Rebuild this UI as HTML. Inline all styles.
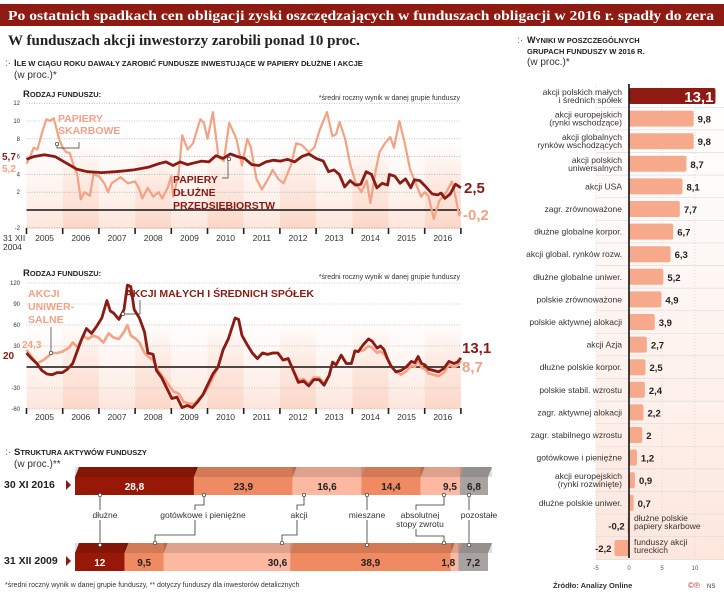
<!DOCTYPE html>
<html><head><meta charset="utf-8"><style>
body{margin:0;background:#fff;}
svg{display:block;font-family:"Liberation Sans",sans-serif;}
.s{font-family:"Liberation Serif",serif;font-weight:bold;}
</style></head><body>
<svg id="c" width="724" height="606" viewBox="0 0 724 606" xmlns="http://www.w3.org/2000/svg">
<defs>
<linearGradient id="bg" x1="0" y1="0" x2="0" y2="1"><stop offset="0" stop-color="#fde3d8" stop-opacity="0"/><stop offset="0.5" stop-color="#fde3d8" stop-opacity="0.8"/><stop offset="1" stop-color="#fcd7c8"/></linearGradient>
<linearGradient id="bg2" x1="0" y1="0" x2="0" y2="1"><stop offset="0" stop-color="#fdeee8" stop-opacity="0"/><stop offset="1" stop-color="#fde6dc"/></linearGradient>
</defs>
<rect x="0" y="4" width="724" height="22" fill="#8e1a12"/>
<text x="8" y="20" class="s" font-size="13.5" fill="#fff" textLength="706" lengthAdjust="spacingAndGlyphs">Po ostatnich spadkach cen obligacji zyski oszczędzających w funduszach obligacji w 2016 r. spadły do zera</text>
<text x="8" y="45" class="s" font-size="15" fill="#222">W funduszach akcji inwestorzy zarobili ponad 10 proc.</text>
<text x="5" y="66" font-size="10" fill="#c0392b">:·</text>
<text x="14" y="66" font-size="9.5" font-weight="bold" fill="#222">I<tspan font-size="7.5">LE W CIĄGU ROKU DAWAŁY ZAROBIĆ FUNDUSZE INWESTUJĄCE  W PAPIERY DŁUŻNE I AKCJE</tspan></text>
<text x="14" y="78" font-size="10" fill="#333">(w proc.)*</text>
<text x="23" y="97" font-size="9.5" font-weight="bold" fill="#222">R<tspan font-size="7.5">ODZAJ FUNDUSZU:</tspan></text>
<text x="460" y="100" font-size="7" fill="#333" text-anchor="end">*średni roczny wynik w danej grupie funduszy</text>
<g id="ch1"></g>
<text x="23" y="276" font-size="9.5" font-weight="bold" fill="#222">R<tspan font-size="7.5">ODZAJ FUNDUSZU:</tspan></text>
<text x="460" y="279" font-size="7" fill="#333" text-anchor="end">*średni roczny wynik w danej grupie funduszy</text>
<g id="ch2"></g>
<text x="5" y="455" font-size="10" fill="#c0392b">:·</text>
<text x="14" y="455" font-size="9.5" font-weight="bold" fill="#222">S<tspan font-size="7.5">TRUKTURA AKTYWÓW FUNDUSZY</tspan></text>
<text x="14" y="467" font-size="10" fill="#333">(w proc.)**</text>
<g id="st"></g>
<text x="5" y="587" font-size="7" fill="#333">*średni roczny wynik w danej grupie funduszy, ** dotyczy funduszy dla inwestorów detalicznych</text>
<text x="517" y="43" font-size="10" fill="#c0392b">:·</text>
<text x="527" y="43" font-size="9" font-weight="bold" fill="#222">W<tspan font-size="7.5">YNIKI W POSZCZEGÓLNYCH</tspan></text>
<text x="527" y="54" font-size="7.5" font-weight="bold" fill="#222">GRUPACH FUNDUSZY W 2016 R.</text>
<text x="527" y="65" font-size="10" fill="#333">(w proc.)*</text>
<g id="rb"></g>
<text x="553" y="588" font-size="7.5" font-weight="bold" fill="#333">Źródło: Analizy Online</text>
<text x="688" y="588" font-size="8" fill="#c0392b">©℗</text><text x="707" y="588" font-size="6" fill="#333">NS</text>
</svg>
<script>
var NS="http://www.w3.org/2000/svg";
function el(p,t,a,txt){var e=document.createElementNS(NS,t);for(var k in a)e.setAttribute(k,a[k]);if(txt!==undefined)e.textContent=txt;p.appendChild(e);return e;}
var X0=26.5,YW=36.2;
function xs(t){return X0+t*YW;}
function axes(g,top,bot,zeroY,ticks,labY,lbl){
 for(var i=0;i<12;i++){el(g,"rect",{x:xs(i),y:top,width:YW,height:bot-top,fill:i%2?"url(#bg)":"url(#bg2)"});}
 ticks.forEach(function(t){el(g,"line",{x1:X0,x2:460,y1:t[1],y2:t[1],stroke:"#999","stroke-width":0.6,"stroke-dasharray":"1,1.5"});el(g,"text",{x:20,y:t[1]+2,"font-size":6,fill:"#333","text-anchor":"end"},t[0]);});
 for(var i=0;i<=12;i++)el(g,"line",{x1:xs(i),x2:xs(i),y1:bot-1,y2:bot+5,stroke:"#222","stroke-width":1.6});
 for(var i=0;i<12;i++)el(g,"text",{x:xs(i)+YW/2,y:labY,"font-size":8.5,fill:"#333","text-anchor":"middle"},2005+i);
 if(lbl){el(g,"text",{x:3,y:labY,"font-size":8.5,fill:"#333"},"31 XII");el(g,"text",{x:3,y:labY+9,"font-size":8.5,fill:"#333"},"2004");}
}
function line(g,d,fy,col,w){var p=d.map(function(v){return xs(v[0]).toFixed(1)+","+fy(v[1]).toFixed(1)}).join(" ");el(g,"polyline",{points:p,fill:"none",stroke:col,"stroke-width":w,"stroke-linejoin":"round"});}
var LC="#f4a184",DC="#8b1a12";
var g1=document.getElementById("ch1");
function y1(v){return 210-v*8.9;}
axes(g1,140,229,210,[[12,y1(12)],[10,y1(10)],[8,y1(8)],[6,y1(6)],[4,y1(4)],[2,y1(2)],[-2,y1(-2)]],241,true);
var sk=[[0,5.2],[0.1,6],[0.2,7],[0.3,6.8],[0.45,9],[0.55,10.2],[0.65,10],[0.75,10.3],[0.9,8],[1,7],[1.1,6.5],[1.2,6.4],[1.3,5],[1.4,4],[1.5,1.2],[1.6,2],[1.75,1.6],[1.85,4],[2,3.8],[2.15,3],[2.25,2],[2.35,3],[2.6,3.7],[2.8,3],[3,3.2],[3.1,2.5],[3.2,1.3],[3.35,2.5],[3.5,1.5],[3.65,2],[3.75,1.3],[3.9,2.5],[4,3.8],[4.05,1.5],[4.2,4],[4.3,8.4],[4.45,6.8],[4.6,7.5],[4.8,10.2],[4.9,9.8],[5,8],[5.15,11],[5.3,6],[5.45,5.5],[5.6,9.8],[5.8,8],[5.95,5],[6.1,8],[6.2,7],[6.35,3.5],[6.5,2.3],[6.65,3.3],[6.8,4.5],[6.95,3.5],[7.1,3],[7.3,5],[7.45,7.5],[7.6,7.3],[7.8,6.5],[7.95,7],[8.1,9],[8.3,11],[8.45,8.3],[8.55,8.5],[8.65,9.9],[8.8,8],[8.95,5],[9.1,3],[9.25,2],[9.4,3.3],[9.5,0.8],[9.65,4.5],[9.75,6.5],[9.9,7.5],[10.05,8.2],[10.15,7],[10.3,10],[10.45,7.5],[10.6,4.5],[10.75,3],[10.9,1.5],[11,2],[11.1,1.6],[11.25,-1],[11.4,1],[11.6,2],[11.75,3.2],[11.85,1.5],[11.95,-0.6],[12,-0.2]];
var dp=[[0,5.7],[0.2,6],[0.5,6.2],[0.8,6],[1.1,5.3],[1.4,4.6],[1.7,4.3],[2.1,4.2],[2.5,4.3],[3,4.5],[3.4,4.8],[3.7,5.2],[3.9,5.4],[4.1,5.0],[4.3,5.4],[4.5,5.1],[4.7,5.3],[4.9,5.5],[5.1,5.4],[5.3,6.1],[5.5,5.8],[5.7,6.3],[5.9,6.0],[6.1,5.8],[6.3,5.1],[6.5,5.0],[6.7,5.4],[6.9,5.6],[7.1,5.5],[7.3,5.7],[7.5,5.4],[7.7,6.0],[7.9,6.3],[8.1,5.8],[8.3,5.5],[8.45,4.3],[8.6,4.5],[8.75,4.0],[8.9,2.6],[9.05,3.3],[9.2,2.8],[9.35,2.9],[9.5,4.3],[9.65,4.0],[9.8,2.5],[9.95,3.0],[10.1,2.8],[10.15,4.0],[10.3,3.8],[10.45,3.0],[10.6,3.5],[10.75,2.5],[10.85,3.4],[11.0,3.3],[11.15,2.7],[11.35,1.8],[11.5,1.7],[11.6,1.9],[11.7,1.3],[11.85,1.8],[12.0,2.9],[12.15,2.5]];
dp=dp.map(function(v){return [v[0]*12/12.15,v[1]]});
el(g1,"line",{x1:X0,x2:460,y1:210,y2:210,stroke:"#111","stroke-width":1.6});
line(g1,sk,y1,LC,2.2);line(g1,dp,y1,DC,2.8);
el(g1,"text",{x:2,y:160,"font-size":10,fill:DC,"font-weight":"bold"},"5,7");
el(g1,"text",{x:2,y:172,"font-size":10,fill:LC,"font-weight":"bold"},"5,2");
el(g1,"text",{x:58,y:122,"font-size":10.5,fill:LC,"font-weight":"bold"},"PAPIERY");
el(g1,"text",{x:58,y:134,"font-size":10.5,fill:LC,"font-weight":"bold"},"SKARBOWE");
el(g1,"polyline",{points:"57,144 57,148 79,148 79,142",fill:"none",stroke:"#333","stroke-width":0.7});
el(g1,"circle",{cx:57,cy:144,r:1.7,fill:"#fff",stroke:"#333","stroke-width":0.7});
el(g1,"text",{x:173,y:183,"font-size":10.5,fill:DC,"font-weight":"bold"},"PAPIERY");
el(g1,"text",{x:173,y:196,"font-size":10.5,fill:DC,"font-weight":"bold"},"DŁUŻNE");
el(g1,"text",{x:173,y:209,"font-size":10.5,fill:DC,"font-weight":"bold"},"PRZEDSIĘBIORSTW");
el(g1,"polyline",{points:"222,178 228,178 228,159",fill:"none",stroke:"#333","stroke-width":0.7});
el(g1,"circle",{cx:229,cy:159,r:1.7,fill:"#fff",stroke:"#333","stroke-width":0.7});
el(g1,"text",{x:464,y:193,"font-size":15,fill:DC,"font-weight":"bold"},"2,5");
el(g1,"text",{x:463,y:220,"font-size":15,fill:LC,"font-weight":"bold"},"-0,2");
var g2=document.getElementById("ch2");
function y2(v){return 367-v*0.70;}
axes(g2,320,409,367,[[120,y2(120)],[90,y2(90)],[60,y2(60)],[30,y2(30)],[-30,y2(-30)],[-60,y2(-60)]],420,false);
var dk=[[0,20],[0.15,12],[0.3,5],[0.45,-5],[0.6,-10],[0.75,-11],[0.9,-8],[1.05,-8],[1.2,-3],[1.35,5],[1.5,25],[1.6,38],[1.75,55],[1.9,48],[2.05,58],[2.2,70],[2.35,95],[2.45,80],[2.55,77],[2.7,68],[2.85,82],[2.95,117],[3.05,115],[3.15,82],[3.3,70],[3.45,50],[3.55,20],[3.7,18],[3.8,-5],[3.95,-15],[4.1,-30],[4.25,-45],[4.4,-43],[4.55,-58],[4.7,-55],[4.85,-58],[5.0,-50],[5.15,-40],[5.3,-25],[5.45,-10],[5.6,0],[5.75,25],[5.9,40],[6.0,55],[6.1,70],[6.2,68],[6.3,45],[6.45,32],[6.6,20],[6.75,12],[6.9,20],[7.05,18],[7.2,20],[7.35,20],[7.5,10],[7.65,12],[7.8,-5],[7.95,-22],[8.1,-20],[8.25,-27],[8.4,-18],[8.55,-18],[8.7,-26],[8.85,-12],[8.95,7],[9.05,3],[9.2,17],[9.35,5],[9.5,5],[9.6,23],[9.7,22],[9.85,32],[10.0,40],[10.1,37],[10.25,27],[10.35,30],[10.45,25],[10.55,12],[10.65,2],[10.8,-7],[10.95,-5],[11.1,0],[11.25,8],[11.35,6],[11.45,15],[11.55,5],[11.65,3],[11.75,-3],[11.9,-5],[12.05,-7],[12.2,-2],[12.35,8],[12.5,5],[12.6,7],[12.7,13]];
dk=dk.map(function(v){return [v[0]*12/12.7,v[1]]});
var lt=[[0,24.3],[0.15,15],[0.3,5],[0.5,10],[0.75,20],[0.9,20],[1.05,22],[1.25,28],[1.35,35],[1.5,28],[1.65,45],[1.8,40],[1.95,45],[2.1,42],[2.25,35],[2.4,48],[2.55,42],[2.7,40],[2.85,50],[2.95,60],[3.05,45],[3.2,40],[3.3,35],[3.45,20],[3.55,15],[3.7,10],[3.85,-5],[4.0,-15],[4.15,-25],[4.3,-35],[4.45,-38],[4.6,-50],[4.75,-52],[4.9,-53],[5.05,-45],[5.2,-38],[5.35,-25],[5.5,-10],[5.6,0]].map(function(v){return [v[0]*12/12.7,v[1]]});
var lt2=dk.filter(function(v){return v[0]>=5.6*12/12.7}).map(function(v){var f=v[1];if(v[0]>9.2&&v[0]<9.9)f=v[1]*0.75;if(v[0]>=10.3)f=v[1]-6;if(v[0]>11.6)f=v[1]-5;if(v[1]<-15)f=v[1]+3;return [v[0],f]});
lt2[lt2.length-1]=[12,8.7];
el(g2,"line",{x1:X0,x2:460,y1:367,y2:367,stroke:"#111","stroke-width":1.6});
line(g2,lt.concat(lt2),y2,LC,2.6);line(g2,dk,y2,DC,2.8);
el(g2,"text",{x:28,y:297,"font-size":10.5,fill:LC,"font-weight":"bold"},"AKCJI");
el(g2,"text",{x:28,y:310,"font-size":10.5,fill:LC,"font-weight":"bold"},"UNIWER-");
el(g2,"text",{x:28,y:323,"font-size":10.5,fill:LC,"font-weight":"bold"},"SALNE");
el(g2,"line",{x1:51,x2:51,y1:327,y2:352,stroke:"#333","stroke-width":0.7});
el(g2,"circle",{cx:51,cy:353,r:1.7,fill:"#fff",stroke:"#333","stroke-width":0.7});
el(g2,"text",{x:125,y:297,"font-size":10.5,fill:DC,"font-weight":"bold"},"AKCJI MAŁYCH I ŚREDNICH SPÓŁEK");
el(g2,"polyline",{points:"124,314 140,314 140,300",fill:"none",stroke:"#333","stroke-width":0.7});
el(g2,"circle",{cx:123,cy:314,r:1.7,fill:"#fff",stroke:"#333","stroke-width":0.7});
el(g2,"text",{x:22,y:348,"font-size":10,fill:LC,"font-weight":"bold"},"24,3");
el(g2,"text",{x:3,y:359,"font-size":10,fill:DC,"font-weight":"bold"},"20");
el(g2,"text",{x:462,y:353,"font-size":15,fill:DC,"font-weight":"bold"},"13,1");
el(g2,"text",{x:462,y:372,"font-size":15,fill:LC,"font-weight":"bold"},"8,7");
var st=document.getElementById("st");
var C={d:"#981808",o:"#f08a62",l:"#fcb8a0",g:"#a8a3a1"};
function bar(y,segs,label){
 var x=75;
 segs.forEach(function(s){var w=s[0]*4.13;
  el(st,"polygon",{points:(x+4)+","+(y-10)+" "+(x+w+4)+","+(y-10)+" "+(x+w)+","+y+" "+x+","+y,fill:s[1],opacity:1});
  el(st,"rect",{x:x,y:y,width:w,height:18,fill:s[1]});
  el(st,"rect",{x:x,y:y-10,width:w+4,height:10,fill:"#000",opacity:0.12});
  x+=w;});
 x=75;
 segs.forEach(function(s){var w=s[0]*4.13;el(st,"text",{x:s[3]?x+w-3:x+w/2,y:y+13,"font-size":10,"font-weight":"bold",fill:s[2],"text-anchor":s[3]?"end":"middle"},String(s[0]).replace(".",","));x+=w;});
 el(st,"text",{x:4,y:y+11,"font-size":10.5,"font-weight":"bold",fill:"#222"},label);
 el(st,"polygon",{points:"66,"+(y+3)+" 71,"+(y+8)+" 66,"+(y+13),fill:"#8e1a12"});
}
bar(477,[[28.8,C.d,"#fff"],[23.9,C.o,"#222"],[16.6,C.l,"#222"],[14.4,C.o,"#222"],[9.5,C.l,"#222",1],[6.8,C.g,"#222"]],"30 XI 2016");
bar(553,[[12.0,C.d,"#fff"],[9.5,C.o,"#222"],[30.6,C.l,"#222",1],[38.9,C.o,"#222"],[1.8,C.l,"#222",1],[7.2,C.g,"#222"]],"31 XII 2009");
var cons=[["100,495 100,545",100,545,100,495],["204,495 204,505 195,505 195,535 155,535 155,543",155,543,204,495],["304,495 304,505 297,505 297,535 282,535 282,543",282,543,304,495],["367,495 367,545",367,545,367,495],["444,495 444,505 416,505 416,536 444,536 444,543",444,543,444,495],["469,495 469,545",469,545,469,495]];
cons.forEach(function(c){el(st,"polyline",{points:c[0],fill:"none",stroke:"#333","stroke-width":0.8});el(st,"circle",{cx:c[1],cy:c[2],r:1.7,fill:"#fff",stroke:"#333","stroke-width":0.7});el(st,"circle",{cx:c[3],cy:c[4],r:1.7,fill:"#fff",stroke:"#333","stroke-width":0.7});});
[["dłużne",105,518],["gotówkowe i pieniężne",203,518],["akcji",299,518],["mieszane",367,518],["absolutnej",420,518],["stopy zwrotu",420,527],["pozostałe",479,518]].forEach(function(t){el(st,"rect",{x:t[1]-(t[0].length*2.4)-2,y:t[2]-8,width:t[0].length*4.8+4,height:10,fill:"#fff"});el(st,"text",{x:t[1],y:t[2],"font-size":8.5,fill:"#333","text-anchor":"middle"},t[0]);});
var rb=document.getElementById("rb");
var data=[["akcji polskich małych","i średnich spółek",13.1],["akcji europejskich","(rynki wschodzące)",9.8],["akcji globalnych","rynków wschodzących",9.8],["akcji polskich","uniwersalnych",8.7],["akcji USA","",8.1],["zagr. zrównoważone","",7.7],["dłużne globalne korpor.","",6.7],["akcji global. rynków rozw.","",6.3],["dłużne globalne uniwer.","",5.2],["polskie zrównoważone","",4.9],["polskie aktywnej alokacji","",3.9],["akcji Azja","",2.7],["dłużne polskie korpor.","",2.5],["polskie stabil. wzrostu","",2.4],["zagr. aktywnej alokacji","",2.2],["zagr. stabilnego wzrostu","",2.0],["gotówkowe i pieniężne","",1.2],["akcji europejskich","(rynki rozwinięte)",0.9],["dłużne polskie uniwer.","",0.7],["","",-0.2],["","",-2.2]];
var Z=629,S=6.6;
el(rb,"rect",{x:596,y:82,width:128,height:478,fill:"url(#bg2)"});
[-5,5,10].forEach(function(v){el(rb,"line",{x1:Z+v*S,x2:Z+v*S,y1:84,y2:558,stroke:"#ccc","stroke-width":0.6,"stroke-dasharray":"1,2"});});
data.forEach(function(d,i){var yc=96+i*22.6;
 el(rb,"line",{x1:596,x2:724,y1:yc+11.3,y2:yc+11.3,stroke:"#ddd","stroke-width":0.7});
 var w=d[2]*S;var big=i==0;
 el(rb,"rect",{x:w>=0?Z:Z+w,y:yc-8,width:Math.abs(w),height:16,rx:2,fill:big?"#8e1a12":"#f7a98c"});
 if(d[1]){el(rb,"text",{x:622,y:yc-1,"font-size":8.5,fill:"#333","text-anchor":"end"},d[0]);el(rb,"text",{x:622,y:yc+7,"font-size":8.5,fill:"#333","text-anchor":"end"},d[1]);}
 else if(d[0])el(rb,"text",{x:622,y:yc+3,"font-size":8.5,fill:"#333","text-anchor":"end"},d[0]);
 var lab=String(d[2]).replace(".",",");
 if(big)el(rb,"text",{x:Z+w-2,y:yc+6,"font-size":15,"font-weight":"bold",fill:"#fff","text-anchor":"end"},lab);
 else if(d[2]>=0)el(rb,"text",{x:Z+w+4,y:yc+4,"font-size":9.5,"font-weight":"bold",fill:"#222"},lab);
 else el(rb,"text",{x:Math.min(Z+w-3,Z-4),y:yc+4,"font-size":9.5,"font-weight":"bold",fill:"#222","text-anchor":"end"},lab);
});
el(rb,"text",{x:634,y:521,"font-size":8.5,fill:"#333"},"dłużne polskie");
el(rb,"text",{x:634,y:529,"font-size":8.5,fill:"#333"},"papiery skarbowe");
el(rb,"text",{x:634,y:545,"font-size":8.5,fill:"#333"},"funduszy akcji");
el(rb,"text",{x:634,y:553,"font-size":8.5,fill:"#333"},"tureckich");
el(rb,"line",{x1:Z,x2:Z,y1:84,y2:558,stroke:"#111","stroke-width":1.6});
[[-5,"-5"],[0,"0"],[5,"5"],[10,"10"]].forEach(function(t){el(rb,"text",{x:Z+t[0]*S,y:570,"font-size":6,fill:"#555","text-anchor":"middle"},t[1]);});
</script>
</body></html>
